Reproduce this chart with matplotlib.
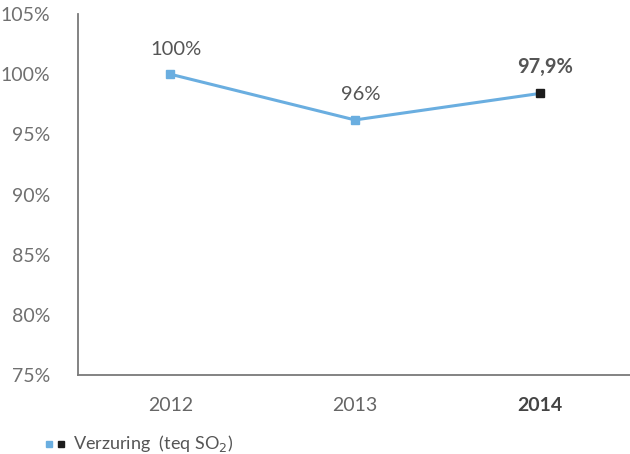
import matplotlib.pyplot as plt

years = ['2012', '2013', '2014']
values = [100.0, 96.2, 98.4]
labels = ['100%', '96%', '97,9%']
yticks = [75, 80, 85, 90, 95, 100, 105]

plt.rcParams['font.family'] = ['Lato', 'DejaVu Sans']

fig = plt.figure(figsize=(6.3, 4.54), dpi=100)
ax = fig.add_axes([0.124, 0.174, 0.876, 0.795])

blue = '#6AAEE0'
x = list(range(len(years)))
ax.plot(x, values, color=blue, lw=2.2, zorder=2)
ax.plot(x[:2], values[:2], 's', color=blue, ms=6, zorder=3)
ax.plot(x[2:], values[2:], 's', color='#1c1c1c', ms=6, zorder=3)

for i, (v, t) in enumerate(zip(values, labels)):
    bold = i == len(values) - 1
    ax.annotate(t, (i, v), xytext=(4, 12), textcoords='offset points',
                ha='center', va='bottom', fontsize=14.5,
                color='#555555', fontweight='bold' if bold else 'normal')

ax.set_xlim(-0.5, 2.49)
ax.set_ylim(75, 105)
ax.set_yticks(yticks)
ax.set_yticklabels([f'{t}%' for t in yticks])
ax.set_xticks(x)
ax.set_xticklabels(years)
ax.tick_params(axis='both', length=0, labelsize=14, colors='#707070')
ax.tick_params(axis='y', pad=20)
ax.tick_params(axis='x', pad=16)
for lab in ax.get_xticklabels()[:2]:
    lab.set_color('#666666')
ax.get_xticklabels()[-1].set_fontweight('bold')
ax.get_xticklabels()[-1].set_color('#444444')

for s in ['top', 'right']:
    ax.spines[s].set_visible(False)
for s in ['left', 'bottom']:
    ax.spines[s].set_color('#7a7a7a')
    ax.spines[s].set_linewidth(1.3)

# legend
fig.patches.append(plt.Rectangle((46 / 630, 1 - 447 / 454), 6 / 630, 6 / 454,
                                 transform=fig.transFigure, color=blue))
fig.patches.append(plt.Rectangle((58 / 630, 1 - 447 / 454), 6 / 630, 6 / 454,
                                 transform=fig.transFigure, color='#1c1c1c'))
fig.text(73 / 630, 1 - 443 / 454, r'Verzuring  (teq SO$_2$)', fontsize=13,
         color='#555555', va='center', ha='left')

fig.savefig('out.png', dpi=100)
